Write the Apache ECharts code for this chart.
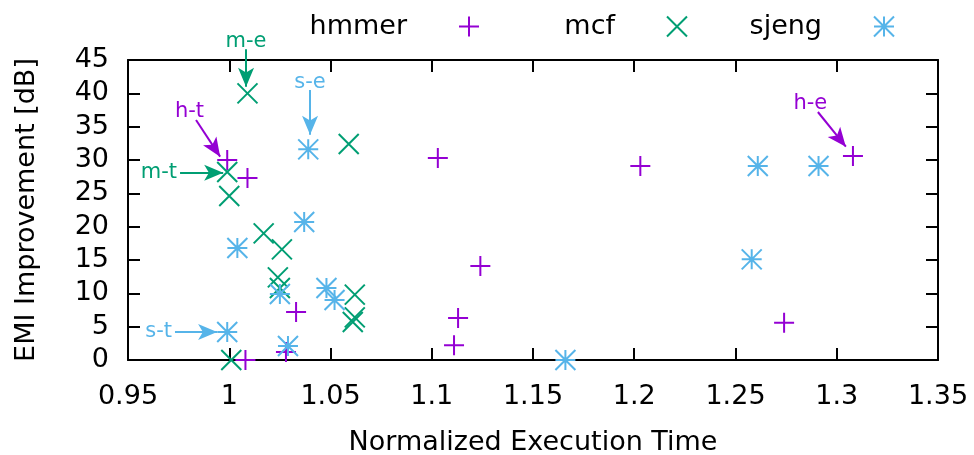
<!DOCTYPE html>
<html>
<head>
<meta charset="utf-8">
<script src="https://cdn.jsdelivr.net/npm/echarts@6/dist/echarts.min.js"></script>
<style>
html, body { margin: 0; padding: 0; background: #fff; }
#chart { width: 974px; height: 455px; }
</style>
</head>
<body>
<div id="chart"></div>
<script>
// [normalized execution time, EMI improvement dB]
var hmmer = [
	[0.999, 30.0], [1.009, 27.3], [1.008, 0.0], [1.033, 7.2], [1.028, 1.2],
	[1.103, 30.3], [1.124, 14.1], [1.113, 6.3], [1.111, 2.2], [1.203, 29.1],
	[1.308, 30.6], [1.274, 5.6]
];
var mcf = [
	[1.009, 40.0], [1.059, 32.4], [0.999, 28.2], [1.000, 24.6], [1.017, 19.0],
	[1.026, 16.6], [1.024, 12.4], [1.025, 10.8], [1.062, 9.8], [1.062, 6.4],
	[1.061, 5.7], [1.001, 0.0]
];
var sjeng = [
	[1.039, 31.6], [1.037, 20.7], [1.004, 16.8], [1.025, 9.9], [1.048, 10.8],
	[1.052, 9.0], [0.999, 4.2], [1.029, 2.1], [1.166, 0.0], [1.258, 15.1],
	[1.261, 29.1], [1.291, 29.1]
];

// annotation arrows: label, from, to (data coordinates)
var hmmerNotes = [
	['h-t', [0.9836, 36.0], [0.9955, 30.5]],
	['h-e', [1.2907, 37.2], [1.3045, 32.0]]
];
var mcfNotes = [
	['m-e', [1.0083, 46.6], [1.0083, 41.0]],
	['m-t', [0.9757, 28.1], [0.9970, 28.1]]
];
var sjengNotes = [
	['s-e', [1.0399, 40.5], [1.0399, 33.8]],
	['s-t', [0.9732, 4.2], [0.9940, 4.2]]
];

var names = ['hmmer', 'mcf', 'sjeng'];
var colors = ['#9400d3', '#009e73', '#56b4e9'];
var symbols = [
	'path://M0,10L20,10M10,0L10,20',
	'path://M0,0L20,20M20,0L0,20',
	'path://M0,10L20,10M10,0L10,20M0,0L20,20M20,0L0,20'
];
// right edge of each key entry, counted from the right side of the picture
var legendRight = [489, 281, 74];
var seriesData = [hmmer, mcf, sjeng];
var notes = [hmmerNotes, mcfNotes, sjengNotes];

var font = 'DejaVu Sans';

var chart = echarts.init(document.getElementById('chart'));

var axisLine = { show: true, onZero: false, lineStyle: { color: '#000', width: 2 } };
var axisTick = { show: true, inside: true, length: 12, lineStyle: { color: '#000', width: 2 } };

chart.setOption({
	animation: false,
	backgroundColor: '#fff',
	grid: { left: 128, right: 36, top: 60, bottom: 95, outerBoundsMode: 'none', containLabel: false },
	legend: names.map(function (name, i) {
		return {
			data: [name],
			top: 8,
			right: legendRight[i],
			align: 'right',
			itemWidth: 20,
			itemHeight: 20,
			selectedMode: false,
			textStyle: {
				fontFamily: font,
				fontSize: 27,
				color: '#000',
				padding: [0, 47, 0, 0]
			}
		};
	}),
	xAxis: [{
		type: 'value',
		min: 0.95,
		max: 1.35,
		interval: 0.05,
		name: 'Normalized Execution Time',
		nameLocation: 'middle',
		nameGap: 69,
		nameTextStyle: { fontFamily: font, fontSize: 27, color: '#000' },
		axisLine: axisLine,
		axisTick: axisTick,
		splitLine: { show: false },
		axisLabel: { fontFamily: font, fontSize: 27, color: '#000', margin: 23 }
	}, {
		type: 'value',
		position: 'top',
		min: 0.95,
		max: 1.35,
		interval: 0.05,
		axisLine: axisLine,
		axisTick: axisTick,
		splitLine: { show: false },
		axisLabel: { show: false }
	}],
	yAxis: [{
		type: 'value',
		min: 0,
		max: 45,
		interval: 5,
		name: 'EMI Improvement [dB]',
		nameLocation: 'middle',
		nameGap: 88,
		nameTextStyle: { fontFamily: font, fontSize: 27, color: '#000' },
		axisLine: axisLine,
		axisTick: axisTick,
		splitLine: { show: false },
		axisLabel: { fontFamily: font, fontSize: 27, color: '#000', margin: 19 }
	}, {
		type: 'value',
		position: 'right',
		min: 0,
		max: 45,
		interval: 5,
		axisLine: axisLine,
		axisTick: axisTick,
		splitLine: { show: false },
		axisLabel: { show: false }
	}],
	series: names.map(function (name, i) {
		return {
			name: name,
			type: 'scatter',
			clip: false,
			symbol: symbols[i],
			symbolSize: 20,
			itemStyle: {
				color: 'rgba(0,0,0,0)',
				borderColor: colors[i],
				borderWidth: 2,
				opacity: 1
			},
			emphasis: { disabled: true },
			data: seriesData[i]
		};
	})
});

// arrows: endpoints go through the axes' own scale (also works above the top border)
function toPx(c) {
	var p = chart.convertToPixel({ xAxisIndex: 0, yAxisIndex: 0 }, c);
	return { x: p[0], y: p[1] };
}

function labelFor(a, b) {
	var dx = Math.abs(b.x - a.x), dy = Math.abs(b.y - a.y);
	if (dy < 1) return { distance: [3, 3] };
	if (dx < 1) return { distance: [3, -3] };
	return { distance: [12, -2], align: 'center', verticalAlign: 'bottom' };
}

chart.setOption({
	series: names.map(function (name, i) {
		return {
			name: name,
			markLine: {
				silent: true,
				symbol: ['none', 'arrow'],
				symbolSize: [12, 19],
				lineStyle: { color: colors[i], width: 2, type: 'solid', opacity: 1 },
				label: {
					show: true,
					position: 'start',
					color: colors[i],
					fontFamily: font,
					fontSize: 21,
					formatter: '{b}'
				},
				data: notes[i].map(function (n) {
					var a = toPx(n[1]);
					var b = toPx(n[2]);
					return [
						{ name: n[0], x: a.x, y: a.y, label: labelFor(a, b) },
						{ x: b.x, y: b.y }
					];
				})
			}
		};
	})
});
</script>
</body>
</html>
